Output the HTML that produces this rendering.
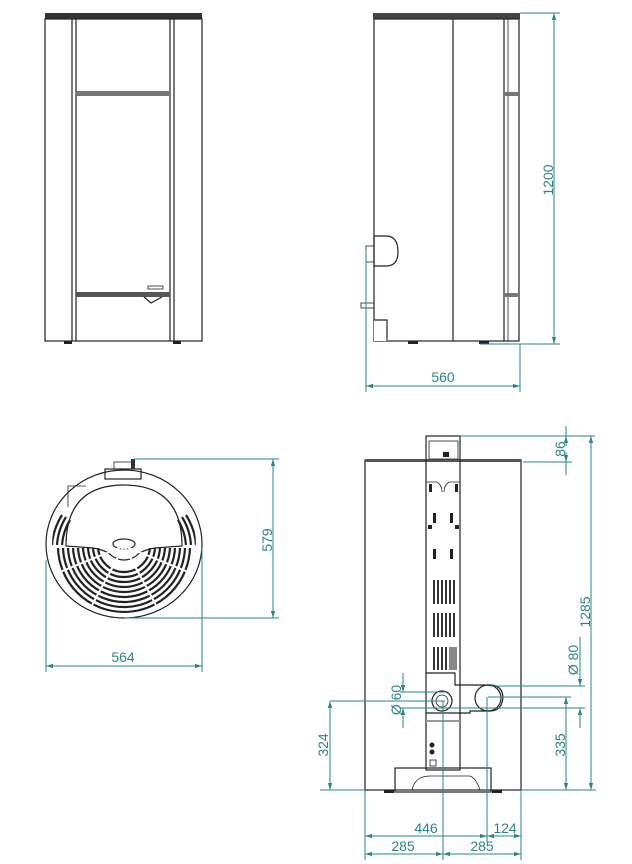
<!DOCTYPE html>
<html><head><meta charset="utf-8"><style>
html,body{margin:0;padding:0;background:#fff;}
svg{display:block;}
text{font-family:"Liberation Sans",sans-serif;font-size:14px;fill:#2a8585;}
.d{stroke:#2a8585;stroke-width:1;fill:none;}
.k{stroke:#222;stroke-width:1.2;fill:none;}
.t{stroke:#222;stroke-width:0.8;fill:none;}
</style></head><body>
<svg width="632" height="864" viewBox="0 0 632 864" xmlns="http://www.w3.org/2000/svg">
<defs>
<marker id="a" viewBox="0 0 10 10" refX="10" refY="5" markerWidth="7" markerHeight="7" orient="auto-start-reverse"><path d="M0,2 L10,5 L0,8 z" fill="#2a8585"/></marker>
<clipPath id="grl"><path d="M46,548 L95,548 Q110,548 115,558 Q124,570 133,558 Q138,548 153,548 L202,548 L202,620 L46,620 z"/></clipPath>
<clipPath id="circ"><ellipse cx="124" cy="544" rx="72" ry="69"/></clipPath>
</defs>

<!-- FRONT VIEW -->
<rect x="45" y="13" width="157" height="6" fill="#333"/>
<rect x="45" y="19" width="157" height="322" class="k"/>
<line x1="72" y1="19" x2="72" y2="341" class="k"/>
<line x1="76" y1="19" x2="76" y2="341" class="k"/>
<line x1="170" y1="19" x2="170" y2="341" class="k"/>
<line x1="174" y1="19" x2="174" y2="341" class="k"/>
<rect x="76" y="91" width="94" height="5" fill="#777"/>
<rect x="76" y="292" width="94" height="5" fill="#555"/>
<path d="M144,297 L151,303 L162,297" class="k"/>
<rect x="148" y="286" width="15" height="3" class="t"/>
<rect x="64" y="341" width="8" height="3" fill="#222"/>
<rect x="173" y="341" width="8" height="3" fill="#222"/>

<!-- SIDE VIEW -->
<rect x="373" y="13" width="147" height="6" fill="#444"/>
<rect x="374" y="19" width="145" height="322" class="k"/>
<line x1="453" y1="19" x2="453" y2="341" class="k" stroke-width="2"/>
<line x1="504" y1="19" x2="504" y2="341" class="k"/>
<line x1="508" y1="19" x2="508" y2="341" class="t"/>
<rect x="504" y="92" width="16" height="4" fill="#777"/>
<rect x="504" y="293" width="16" height="4" fill="#777"/>
<rect x="374" y="320" width="14" height="21" fill="#fff"/>
<path d="M374,320 L387,320 L387,341" class="k"/>
<path d="M374,236 L386,236 Q398,236 398,252 Q398,266 386,266 L374,266 z" class="k"/>
<rect x="366" y="246" width="8" height="16" class="t"/>
<rect x="361" y="303" width="13" height="5" class="t"/>
<rect x="408" y="341" width="10" height="3" fill="#222"/>
<rect x="479" y="341" width="10" height="3" fill="#222"/>
<!-- dims -->
<line x1="520" y1="13" x2="560" y2="13" class="d"/>
<line x1="480" y1="344" x2="560" y2="344" class="d"/>
<line x1="554" y1="13" x2="554" y2="344" class="d" marker-start="url(#a)" marker-end="url(#a)"/>
<text transform="translate(553,180) rotate(-90)" text-anchor="middle">1200</text>
<line x1="366" y1="250" x2="366" y2="392" class="d"/>
<line x1="520" y1="344" x2="520" y2="392" class="d"/>
<line x1="366" y1="386" x2="520" y2="386" class="d" marker-start="url(#a)" marker-end="url(#a)"/>
<text x="443" y="382" text-anchor="middle">560</text>

<!-- TOP VIEW -->
<ellipse cx="124" cy="544" rx="78" ry="74" class="k"/>
<path d="M68,507 L68,486 L86,486" class="t"/>
<rect x="105" y="469" width="36" height="10" class="k" fill="#fff"/>
<rect x="114" y="462" width="20" height="7" class="t"/>
<rect x="131" y="459" width="4" height="10" fill="#333"/>
<path d="M66,546 Q66,485 124,485 Q182,485 182,546 L155,548 Q142,550 136,556 Q124,564 112,556 Q106,550 93,548 z" class="k"/>
<ellipse cx="124" cy="544" rx="11" ry="5" class="k"/>
<g clip-path="url(#circ)">
<g clip-path="url(#grl)" stroke="#222" stroke-width="2.2" fill="none">
<circle cx="124" cy="546" r="26"/><circle cx="124" cy="546" r="31"/><circle cx="124" cy="546" r="36"/><circle cx="124" cy="546" r="41"/><circle cx="124" cy="546" r="46"/><circle cx="124" cy="546" r="51"/><circle cx="124" cy="546" r="56"/><circle cx="124" cy="546" r="61"/><circle cx="124" cy="546" r="66"/>
</g>
<g stroke="#222" stroke-width="2.2" fill="none">
<path d="M52,545 A72,68 0 0 1 62,515"/><path d="M57,545 A67,63 0 0 1 66,517"/><path d="M62,545 A62,58 0 0 1 70,520"/>
<path d="M196,545 A72,68 0 0 0 186,515"/><path d="M191,545 A67,63 0 0 0 182,517"/><path d="M186,545 A62,58 0 0 0 178,520"/>
</g>
<g stroke="#fff" stroke-width="2">
<line x1="124" y1="546" x2="84" y2="620"/><line x1="124" y1="546" x2="164" y2="620"/>
<line x1="124" y1="546" x2="40" y2="580"/><line x1="124" y1="546" x2="208" y2="580"/>
</g>
</g>
<!-- dims -->
<line x1="134" y1="459" x2="279" y2="459" class="d"/>
<line x1="124" y1="618" x2="279" y2="618" class="d"/>
<line x1="273" y1="459" x2="273" y2="618" class="d" marker-start="url(#a)" marker-end="url(#a)"/>
<text transform="translate(272,540) rotate(-90)" text-anchor="middle">579</text>
<line x1="46" y1="560" x2="46" y2="672" class="d"/>
<line x1="202" y1="548" x2="202" y2="672" class="d"/>
<line x1="46" y1="666" x2="202" y2="666" class="d" marker-start="url(#a)" marker-end="url(#a)"/>
<text x="123" y="662" text-anchor="middle">564</text>

<!-- BACK VIEW -->
<rect x="365" y="460" width="156" height="330" class="k"/>
<rect x="365" y="459" width="156" height="3" fill="#555"/>
<rect x="426" y="436" width="34" height="334" class="k" fill="#fff"/>
<rect x="429" y="441" width="29" height="18" class="t"/>
<rect x="443" y="452" width="6" height="5" fill="#222"/>
<path d="M426,482 L437,482 Q442,485 442,492 M460,482 L449,482 Q444,485 444,492" class="t"/>
<g fill="#222">
<rect x="429" y="484" width="3" height="8"/><rect x="455" y="484" width="3" height="8"/>
<rect x="433" y="513" width="3" height="10"/><rect x="450" y="513" width="3" height="10"/>
<rect x="433" y="549" width="3" height="10"/><rect x="450" y="549" width="3" height="10"/>
<rect x="428" y="525" width="4" height="4"/><rect x="455" y="525" width="4" height="4"/>
</g>
<g stroke="#333" stroke-width="2">
<line x1="434" y1="580" x2="434" y2="604"/><line x1="438" y1="580" x2="438" y2="604"/><line x1="442" y1="580" x2="442" y2="604"/><line x1="446" y1="580" x2="446" y2="604"/><line x1="450" y1="580" x2="450" y2="604"/><line x1="454" y1="580" x2="454" y2="604"/>
<line x1="434" y1="613" x2="434" y2="637"/><line x1="438" y1="613" x2="438" y2="637"/><line x1="442" y1="613" x2="442" y2="637"/><line x1="446" y1="613" x2="446" y2="637"/><line x1="450" y1="613" x2="450" y2="637"/><line x1="454" y1="613" x2="454" y2="637"/>
<line x1="434" y1="647" x2="434" y2="670"/><line x1="438" y1="647" x2="438" y2="670"/><line x1="442" y1="647" x2="442" y2="670"/><line x1="446" y1="647" x2="446" y2="670"/>
</g>
<rect x="449" y="647" width="8" height="23" fill="#888"/>
<path d="M426,673 L455,673 L455,685 L490,685 Q502,685 503,697 Q502,711 490,711 L470,711 L470,713 L426,713" class="k" fill="#fff"/>
<circle cx="488" cy="698" r="13" class="k"/>
<circle cx="442" cy="701" r="10" class="k" stroke-width="2"/>
<circle cx="442" cy="701" r="6" class="t"/>
<rect x="426" y="720" width="34" height="2" fill="#999"/>
<circle cx="432" cy="745" r="2.5" fill="#222"/><circle cx="432" cy="752" r="2.5" fill="#222"/>
<rect x="430" y="760" width="6" height="6" class="t"/>
<rect x="395" y="768" width="96" height="24" class="k" fill="#fff"/>
<path d="M412,790 Q415,776 430,776 L470,776 Q476,778 480,790" class="t"/>
<rect x="384" y="790" width="10" height="3" fill="#222"/>
<rect x="492" y="790" width="10" height="3" fill="#222"/>
<!-- dims -->
<line x1="460" y1="436" x2="595" y2="436" class="d"/>
<line x1="523" y1="462" x2="572" y2="462" class="d"/>
<line x1="566" y1="426" x2="566" y2="436" class="d"/>
<line x1="566" y1="462" x2="566" y2="475" class="d"/>
<line x1="566" y1="446" x2="566" y2="436" class="d" marker-end="url(#a)"/>
<line x1="566" y1="452" x2="566" y2="462" class="d" marker-end="url(#a)"/>
<text transform="translate(565,449) rotate(-90)" text-anchor="middle">86</text>
<line x1="591" y1="436" x2="591" y2="790" class="d" marker-start="url(#a)" marker-end="url(#a)"/>
<text transform="translate(590,612) rotate(-90)" text-anchor="middle">1285</text>
<line x1="490" y1="686" x2="585" y2="686" class="d"/>
<line x1="400" y1="708" x2="585" y2="708" class="d"/>
<line x1="580" y1="637" x2="580" y2="686" class="d" marker-end="url(#a)"/>
<line x1="580" y1="728" x2="580" y2="708" class="d" marker-end="url(#a)"/>
<text transform="translate(578,660) rotate(-90)" text-anchor="middle">Ø 80</text>
<line x1="488" y1="697" x2="571" y2="697" class="d"/>
<line x1="566" y1="697" x2="566" y2="790" class="d" marker-start="url(#a)" marker-end="url(#a)"/>
<text transform="translate(565,745) rotate(-90)" text-anchor="middle">335</text>
<line x1="330" y1="701" x2="445" y2="701" class="d"/>
<line x1="320" y1="790" x2="365" y2="790" class="d"/>
<line x1="521" y1="790" x2="596" y2="790" class="d"/>
<line x1="330" y1="701" x2="330" y2="790" class="d" marker-start="url(#a)" marker-end="url(#a)"/>
<text transform="translate(328,745) rotate(-90)" text-anchor="middle">324</text>
<line x1="400" y1="692" x2="446" y2="692" class="d"/>
<line x1="403" y1="673" x2="403" y2="692" class="d" marker-end="url(#a)"/>
<line x1="403" y1="728" x2="403" y2="708" class="d" marker-end="url(#a)"/>
<text transform="translate(401,700) rotate(-90)" text-anchor="middle">Ø 60</text>
<line x1="365" y1="790" x2="365" y2="860" class="d"/>
<line x1="443" y1="701" x2="443" y2="860" class="d"/>
<line x1="487" y1="697" x2="487" y2="842" class="d"/>
<line x1="521" y1="790" x2="521" y2="860" class="d"/>
<line x1="365" y1="836" x2="487" y2="836" class="d" marker-start="url(#a)" marker-end="url(#a)"/>
<line x1="487" y1="836" x2="521" y2="836" class="d" marker-start="url(#a)" marker-end="url(#a)"/>
<text x="426" y="833" text-anchor="middle">446</text>
<text x="505" y="833" text-anchor="middle">124</text>
<line x1="365" y1="854" x2="443" y2="854" class="d" marker-start="url(#a)" marker-end="url(#a)"/>
<line x1="443" y1="854" x2="521" y2="854" class="d" marker-start="url(#a)" marker-end="url(#a)"/>
<text x="403" y="851" text-anchor="middle">285</text>
<text x="482" y="851" text-anchor="middle">285</text>
</svg>
</body></html>
